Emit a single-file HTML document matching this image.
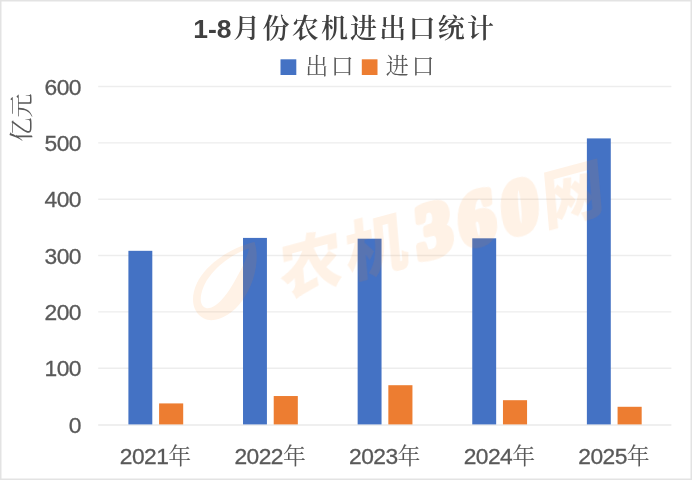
<!DOCTYPE html>
<html lang="zh-CN">
<head>
<meta charset="utf-8">
<title>1-8月份农机进出口统计</title>
<style>
html,body{margin:0;padding:0;background:#fff;}
body{width:692px;height:480px;overflow:hidden;}
svg{display:block;}
text{fill:#595959;}
.num{font-family:"Liberation Sans",sans-serif;font-size:22.8px;letter-spacing:-0.55px;stroke:#595959;stroke-width:0.3px;}
.cjk{font-family:"Liberation Serif","Noto Serif CJK SC",serif;font-size:24px;}
.yr{font-size:23px;}
.leg{font-size:23px;letter-spacing:2.6px;}
.title{fill:#404040;}
.tnum{font-family:"Liberation Sans",sans-serif;font-size:26.5px;font-weight:bold;}
.tcjk{font-family:"Liberation Serif","Noto Serif CJK SC",serif;font-size:27px;font-weight:600;letter-spacing:2.2px;}
.wm{fill:#ff8a1f;}
.wmc{font-family:"Liberation Sans","Noto Sans CJK SC",sans-serif;font-weight:900;font-size:64px;letter-spacing:4px;}
.wmn{font-family:"Liberation Serif",serif;font-weight:bold;font-style:normal;font-size:74px;stroke:#ff8a1f;stroke-width:7.5px;stroke-linejoin:round;letter-spacing:7.5px;}
</style>
</head>
<body>
<svg width="692" height="480" viewBox="0 0 692 480">
<rect x="0" y="0" width="692" height="480" fill="#fff"/>
<rect x="0.75" y="0.75" width="690.5" height="478.5" fill="none" stroke="#e3e3e3" stroke-width="1.5"/>
<line x1="98.2" x2="671.4" y1="424.95" y2="424.95" stroke="#eaeaea" stroke-width="1.6"/>
<line x1="98.2" x2="671.4" y1="368.25" y2="368.25" stroke="#ededed" stroke-width="1.4"/>
<line x1="98.2" x2="671.4" y1="311.90" y2="311.90" stroke="#ededed" stroke-width="1.4"/>
<line x1="98.2" x2="671.4" y1="255.55" y2="255.55" stroke="#ededed" stroke-width="1.4"/>
<line x1="98.2" x2="671.4" y1="199.20" y2="199.20" stroke="#ededed" stroke-width="1.4"/>
<line x1="98.2" x2="671.4" y1="142.85" y2="142.85" stroke="#ededed" stroke-width="1.4"/>
<line x1="98.2" x2="671.4" y1="86.50" y2="86.50" stroke="#ededed" stroke-width="1.4"/>
<text class="num" x="81.0" y="432.70" text-anchor="end">0</text>
<text class="num" x="81.0" y="376.35" text-anchor="end">100</text>
<text class="num" x="81.0" y="320.00" text-anchor="end">200</text>
<text class="num" x="81.0" y="263.65" text-anchor="end">300</text>
<text class="num" x="81.0" y="207.30" text-anchor="end">400</text>
<text class="num" x="81.0" y="150.95" text-anchor="end">500</text>
<text class="num" x="81.0" y="94.60" text-anchor="end">600</text>
<rect x="128.40" y="250.82" width="23.9" height="173.58" fill="#4472c4"/>
<rect x="159.10" y="403.41" width="24.1" height="20.99" fill="#ed7d31"/>
<rect x="243.02" y="237.91" width="23.9" height="186.49" fill="#4472c4"/>
<rect x="273.72" y="396.03" width="24.1" height="28.37" fill="#ed7d31"/>
<rect x="357.64" y="238.70" width="23.9" height="185.70" fill="#4472c4"/>
<rect x="388.34" y="385.21" width="24.1" height="39.19" fill="#ed7d31"/>
<rect x="472.26" y="238.31" width="23.9" height="186.09" fill="#4472c4"/>
<rect x="502.96" y="400.20" width="24.1" height="24.20" fill="#ed7d31"/>
<rect x="586.88" y="138.40" width="23.9" height="286.00" fill="#4472c4"/>
<rect x="617.58" y="406.79" width="24.1" height="17.61" fill="#ed7d31"/>
<text class="xl" x="155.52" y="463.7" text-anchor="middle"><tspan class="num">2021</tspan><tspan class="cjk yr">年</tspan></text>
<text class="xl" x="270.16" y="463.7" text-anchor="middle"><tspan class="num">2022</tspan><tspan class="cjk yr">年</tspan></text>
<text class="xl" x="384.80" y="463.7" text-anchor="middle"><tspan class="num">2023</tspan><tspan class="cjk yr">年</tspan></text>
<text class="xl" x="499.44" y="463.7" text-anchor="middle"><tspan class="num">2024</tspan><tspan class="cjk yr">年</tspan></text>
<text class="xl" x="614.08" y="463.7" text-anchor="middle"><tspan class="num">2025</tspan><tspan class="cjk yr">年</tspan></text>
<text class="cjk" transform="translate(29.5,117.5) rotate(-90)" text-anchor="middle" x="0" y="0">亿元</text>
<text class="title" y="37.7"><tspan class="tnum" x="193.2">1-8</tspan><tspan class="tcjk" x="233.3">月份农机进出口统计</tspan></text>
<rect x="280.5" y="59.3" width="15.8" height="15.7" fill="#4472c4"/>
<text class="cjk leg" x="305.2" y="74.2">出口</text>
<rect x="361.8" y="59.3" width="15.7" height="15.7" fill="#ed7d31"/>
<text class="cjk leg" x="385.8" y="74.2">进口</text>
<g opacity="0.11" fill="#ff8a1f">
<path fill-rule="evenodd" d="M254.5,242 C260,258 255,284 242,301 C232,315 215,324 204,318.5 C193,313 189.5,299 197,283 C207,263 232,247 254.5,242 Z M249,248.5 C233,253 211,269 203.5,287 C199,298 200,306 206,308 C214,310 225,298 233,284 C241,270 247,259 249,248.5 Z"/>
<text class="wm" transform="translate(282,296) rotate(-15) skewX(-10)"><tspan class="wmc">农机</tspan><tspan class="wmn" dx="5">360</tspan><tspan class="wmc" dx="-3">网</tspan></text>
</g>
</svg>
</body>
</html>
